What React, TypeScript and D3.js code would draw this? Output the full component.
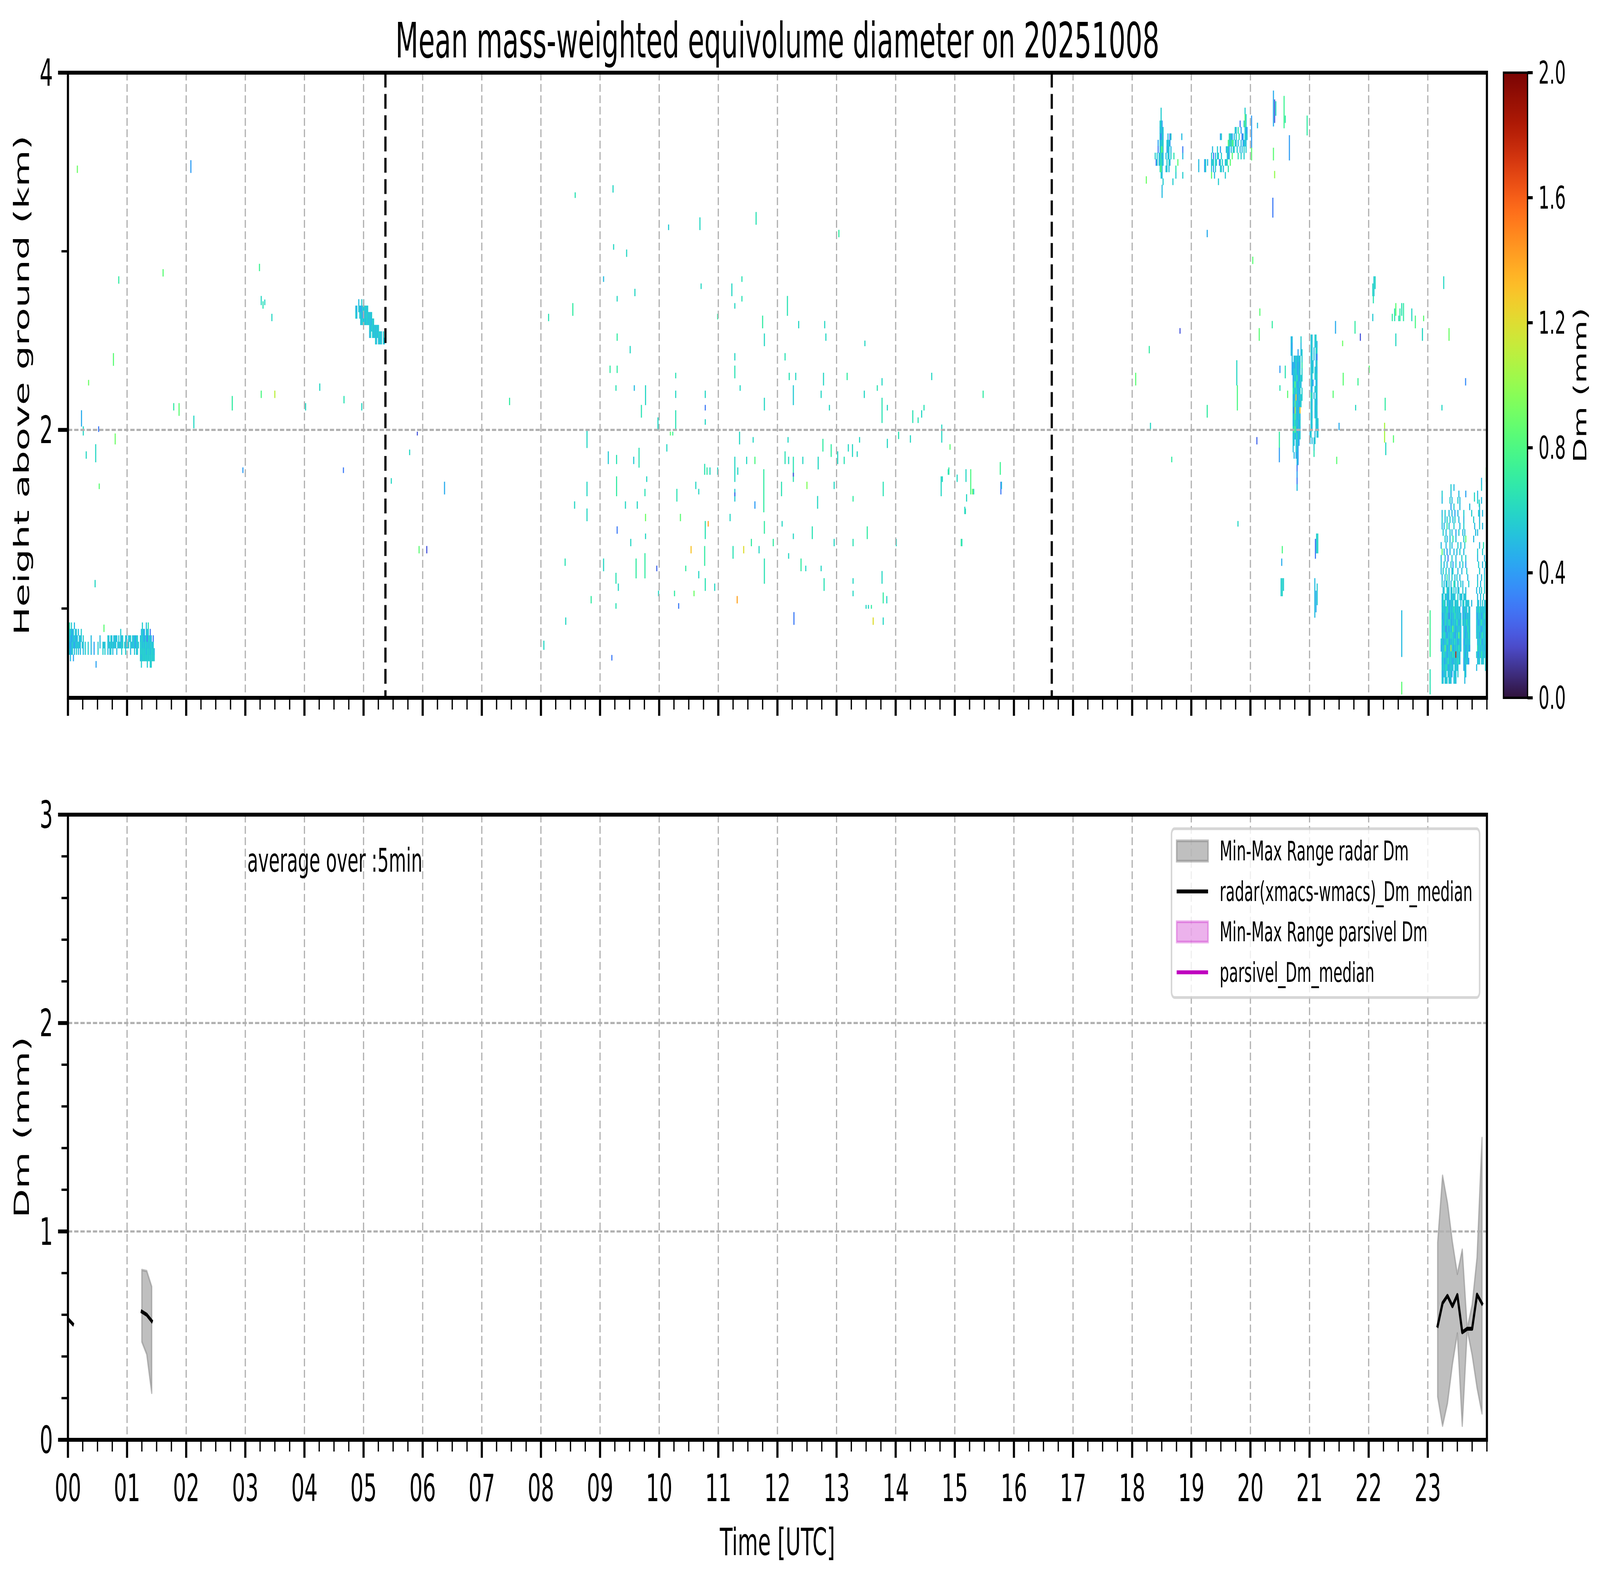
import React from 'react'
import * as d3 from 'd3'

// ---------------- data ----------------
const hourLabels = ['00', '01', '02', '03', '04', '05', '06', '07', '08', '09', '10', '11',
    '12', '13', '14', '15', '16', '17', '18', '19', '20', '21', '22', '23']
const heightTicks = [2, 4]
const heightMinorTicks = [1, 3]
const dmTicks = [0, 1, 2, 3]
const cbarTicks = [0, 0.4, 0.8, 1.2, 1.6, 2.0]
const sunLines = [5.37, 16.64] // black dashed markers (h UTC)

// radar grid resolution
const STEP = 1 / 60 // h
const GATE = 0.036 // km

// Dm code letters used in the echo blocks (mm)
const dmCodes: Record<string, number> = {
    a: 0.3, b: 0.42, c: 0.5, d: 0.56, e: 0.66, f: 0.85, g: 1.1, h: 1.3, i: 1.5, j: 1.8
}

// dense echo regions: start hour, lowest gate (km), rows from top to bottom
const echoBlocks = [
    { // low layer 00:00-01:28
        start: 0.0, base: 0.67, rows: [
            'fe.d..c...........' + '.........................' + '..............................' + '..d...c.e......',
            'fddcbd.cd.c..d....' + '.........................' + '..........d...................' + '.cdcb.dcd.a....',
            'edcbccdcbd.cdc.d..' + '.....c........c.......dc.' + 'dc.cdcc.d.ccd..dc.cdd.cdcbdd..' + 'cddcbdcaddcc.a.',
            'dcbcdcbcdcdcc.dc.d' + '..d..c..b...d.c..dcd..cdc' + 'dcdccd.cdccdd.dcdcd.dccdcbdcd.' + 'ddcdcddcdcddcd.',
            'cdbcd.c.d.c.c..c.d' + '..d..c..b...d....d.d..c.c' + 'd.c...c....d...d....c...d.cd..' + 'ddddddcdddcdddc',
            '..c..b............' + '.........................' + '..............................' + 'dcddddddddddddd',
            '..................' + '..........b..............' + '..............................' + '.d.....d..dd...',
        ]
    },
    { // 05h layer near 2.6 km
        start: 4.86, base: 2.48, rows: [
            '...c..d.c......................',
            'cc.dcbcdcddcd..................',
            'dc..ddcbdcdddcdcd..............',
            '.....cddcdcddcdccdd............',
            '..............dcddcdcdcd.......',
            '..............cd.dcdcdcdddc.d..',
            '....................dc.dcdc.dc.',
        ]
    },
    { // upper layer around 18:30
        start: 18.33, base: 3.30, rows: [
            '.........d......................',
            '.........d......................',
            '........ddb.....................',
            '........cdbd....................',
            '........cadc....c.ad..........c.',
            '......b.dcdd...dcdb.............',
            '......a.cefd...bdc.c...........a',
            '...d.d.cdebd..c.dc.d..e........c',
            '....ad.cdedc...d.dc.......f.....',
            '........efc...cd.c......e.......',
            '.........dc.............d......d',
            '...........d.........d..........',
            '..........c.....................',
            '..........c.....................',
        ]
    },
    { // upper layer 19-20h
        start: 19.1, base: 3.372, rows: [
            '................................................d.......',
            '................................................fd......',
            '...........................................a...dfd......',
            '......................................dc.e..b...dcb.....',
            '.......................bd.......ecdb.c.d..e..ab.ddc.....',
            '...............................fdecfe.dc.c..c.bcdc......',
            '...............c....d..b.....cddb.c.dd..d..c.c.d.d......',
            '..............d.a.c.dd..d.....dbc..f.....e..d..d........',
            '.c.....bd.c...cdd.dd..ad.d..dce..f......................',
            '.c.....bd.....d.b.d....dd.c....e........................',
            '..............f..c..........d...........................',
            '.....................d..................................',
        ]
    },
    { // fall streak ~20:45
        start: 20.68, base: 1.66, rows: [
            'cc........d.', 'cb........c.', 'cc.....b..cd', '.c.ccdcccd.d',
            '.bcbcdcbcc.e', '.bccddcbcd.d', '..bdcdecbcdd', '..cdfdcbcdc.',
            '..edceccbd.d', '..cbdhcbdcdd', '..dbfcdcbcd.', '..cagdcbdh..',
            '..dcfcdbdc..', '..cdecdcbd..', '..edfdcbdc..', '..cdccebcd..',
            '..dc.cdcb...', '..c..dcb....', '...c.bcb....', '......cb....',
            '......a.....', '......b.....', '......a.....', '......c.....',
        ]
    },
    { // fall streak ~21:05
        start: 21.0, base: 1.85, rows: [
            '.dc..dd..', '.cd..cdc.', '.dc.c.dd.', '.cd.c.ca.', '.cdc..cd.',
            '.dcd.dcc.', '.cd..cdd.', '.dcb..cc.', '.cc..dcd.', '.ed.c.cd.',
            '.dc..dcc.', '.cd..ccd.', '.dc..cdc.', '.cd...dcd', '.dc...cdc',
            'cd...c.cd', 'c.c.cd...', '....d....', '....e....',
        ]
    },
    { // low rain 23:12-24:00
        start: 23.2, base: 0.58, rows: [
            '..........................................c.....',
            '...........d..c...........................d.....',
            '..d........c.......c......b...........c.........',
            '..c.......d.c.....d.c.................d...c.....',
            '...........b..d.....c.........c.........c.......',
            '..c..d...c..c..b..c.....d.......d......dc..c....',
            '..d..c.d..d..c.d...c....c.........d.....c.......',
            '..c.c..e.c....d.....c...d..........c....d..c....',
            '...d..c...d.c...b..d...c.c..........c.c.........',
            '.....d.c..c..e..c.......d.f.......c.............',
            '.c....c...d.c.....d..c...d..............c...e...',
            '..f.c..b..c...c..c..d...c.............d....d....',
            '.c...d..a...d...c.....d...d...........c......c..',
            '.d..c..c...d.b..d...c..d..b............d...c..d.',
            '.c.d..d..c..cd....c...c....d............d....c..',
            '..c..c.e.c..d..c.d..c.......c.........c...c..d..',
            '..d.c.dc.d.c..ed..c..d.c.....d........d..c...d..',
            '...cd..ddc.cd.d.c.dc...d..c..........c..c.d..d..',
            '..dc.ddcbd.cdccd..d.cdc.dcd...........c..c..d..d',
            '..cdec.dccbdcd.dcdd..c.dd.cdcd..c.....dc.c.d.cde',
            '..dcdcdedbcdcdedcdcdc..bdcdc.dc......cdcecdcdcdd',
            '..cbdcecdacdbdcedcdcdc.bdcbdcdc......cbdcdbcdecd',
            '..dcbecdcedcbdcdcedbcd.dcdcedcd......dcbcdecdbdc',
            '..cdcdadcbdcdfcdbcdcdc..cdbcedc......cdcdcbcdcde',
            '..dcedcbcdceddcbcdcfdc..dcbdcec......dcdbcdecdcd',
            '.cdbcdcedcbdcdcecdbcdc..bcdcdcd.......cdcecbdcdc',
            '.bcdcfdcbdcgdcbdcdcedc..cdbcdcb.......ecdcdcdbdc',
            '..dcecdbcdcdcedcjdcdc...dcbdc........dcbdcedcdc.',
            '..cdcbdcedcdcbdcdcedc...bdcdcb........cdc.dcd.d.',
            '..dcdcedcbdcdc.dcdc.....cbd..........c........d.',
            '..cbdcd.cdcdb.cdc.d......dc.....................',
            '..dc.dcd.cdc..cdc........c......................',
        ]
    },
]

// isolated echoes: [hour, km bottom, km top, Dm (mm)]
const echoMarks: [number, number, number, number][] = [
    [0.15, 3.44, 3.48, 0.9], [2.07, 3.44, 3.51, 0.4], [0.85, 2.82, 2.86, 0.7], [1.60, 2.86, 2.90, 0.85],
    [3.23, 2.89, 2.93, 0.75], [3.26, 2.70, 2.75, 0.6], [3.29, 2.68, 2.72, 0.65], [3.32, 2.70, 2.73, 0.6],
    [3.44, 2.61, 2.65, 0.6], [0.76, 2.36, 2.43, 0.85], [0.34, 2.25, 2.28, 0.9], [0.22, 2.02, 2.11, 0.45],
    [0.25, 1.97, 2.02, 0.6], [0.51, 1.99, 2.02, 0.3], [0.79, 1.92, 1.98, 0.9], [0.30, 1.84, 1.88, 0.6],
    [0.46, 1.82, 1.92, 0.6], [0.52, 1.67, 1.70, 0.85], [0.45, 1.12, 1.16, 0.6], [0.60, 0.87, 0.91, 0.85],
    [1.78, 2.11, 2.15, 0.7], [1.87, 2.08, 2.15, 0.85], [2.12, 2.01, 2.08, 0.6], [2.77, 2.11, 2.19, 0.7],
    [2.95, 1.76, 1.79, 0.4], [3.26, 2.18, 2.22, 0.8], [3.49, 2.18, 2.22, 1.1], [4.25, 2.22, 2.26, 0.6],
    [4.66, 2.15, 2.19, 0.65], [4.65, 1.76, 1.79, 0.3], [4.01, 2.11, 2.15, 0.6], [4.96, 2.11, 2.15, 0.6],
    [5.46, 1.70, 1.73, 0.6], [5.77, 1.86, 1.89, 0.6], [5.90, 1.97, 1.99, 0.2], [5.93, 1.31, 1.35, 0.85],
    [6.06, 1.31, 1.35, 0.2], [6.36, 1.64, 1.71, 0.45], [7.46, 2.14, 2.18, 0.7], [8.04, 0.77, 0.82, 0.6],
    // 08-16h scattered echoes
    [8.57, 3.30, 3.33, 0.65], [9.21, 3.33, 3.37, 0.6], [8.12, 2.61, 2.65, 0.65], [8.53, 2.64, 2.71, 0.7],
    [9.22, 3.01, 3.04, 0.6], [9.44, 2.97, 3.01, 0.6], [9.05, 2.83, 2.86, 0.5], [9.28, 2.72, 2.75, 0.6],
    [9.58, 2.75, 2.79, 0.6], [9.28, 2.50, 2.54, 0.7], [9.50, 2.43, 2.47, 0.6], [9.16, 2.32, 2.36, 0.7],
    [9.28, 2.32, 2.36, 0.7], [9.26, 2.22, 2.25, 0.65], [9.57, 2.22, 2.25, 0.5], [9.76, 2.14, 2.25, 0.6],
    [9.69, 2.07, 2.14, 0.65], [9.97, 2.00, 2.07, 0.6], [10.15, 3.12, 3.15, 0.55], [10.68, 3.12, 3.19, 0.6],
    [10.70, 2.79, 2.82, 0.6], [10.27, 2.29, 2.32, 0.65], [10.27, 2.18, 2.22, 0.6], [10.27, 2.00, 2.11, 0.65],
    [10.77, 2.18, 2.22, 0.6], [10.77, 2.11, 2.14, 0.3], [10.77, 2.03, 2.06, 0.6], [10.98, 2.62, 2.65, 0.7],
    [11.22, 2.75, 2.82, 0.6], [11.39, 2.83, 2.86, 0.65], [11.39, 2.72, 2.75, 0.65], [11.27, 2.68, 2.71, 0.6],
    [11.63, 3.15, 3.22, 0.65], [11.74, 2.57, 2.64, 0.7], [11.77, 2.47, 2.54, 0.6], [11.27, 2.39, 2.43, 0.6],
    [11.27, 2.29, 2.36, 0.65], [11.36, 2.22, 2.25, 0.6], [11.77, 2.11, 2.18, 0.6], [12.16, 2.64, 2.75, 0.65],
    [12.35, 2.57, 2.61, 0.6], [12.79, 2.57, 2.61, 0.6], [12.81, 2.50, 2.54, 0.6], [12.12, 2.39, 2.43, 0.65],
    [12.19, 2.28, 2.32, 0.65], [12.30, 2.28, 2.32, 0.6], [12.26, 2.14, 2.25, 0.55], [12.77, 2.25, 2.32, 0.6],
    [12.73, 2.18, 2.22, 0.6], [12.87, 2.11, 2.14, 0.6], [13.03, 3.08, 3.12, 0.7], [13.47, 2.47, 2.50, 0.6],
    [13.17, 2.28, 2.32, 0.7], [13.46, 2.18, 2.22, 0.6], [13.68, 2.22, 2.25, 0.65], [13.76, 2.25, 2.29, 0.6],
    [13.76, 2.04, 2.18, 0.65], [13.85, 2.11, 2.14, 0.6], [14.28, 2.04, 2.11, 0.65], [14.37, 2.04, 2.07, 0.65],
    [14.43, 2.07, 2.11, 0.6], [14.47, 2.11, 2.14, 0.65], [14.60, 2.28, 2.32, 0.6], [14.77, 1.93, 2.03, 0.6],
    [15.47, 2.18, 2.22, 0.7], [8.77, 1.90, 2.00, 0.6], [8.77, 1.63, 1.71, 0.6], [8.77, 1.49, 1.56, 0.6],
    [8.56, 1.56, 1.60, 0.6], [9.13, 1.81, 1.88, 0.55], [9.27, 1.81, 1.86, 0.65], [9.27, 1.63, 1.74, 0.7],
    [9.42, 1.56, 1.60, 0.6], [9.56, 1.81, 1.85, 0.55], [9.65, 1.79, 1.90, 0.65], [9.75, 1.63, 1.67, 0.65],
    [9.78, 1.71, 1.74, 0.6], [9.62, 1.56, 1.60, 0.6], [9.76, 1.49, 1.53, 0.9], [9.28, 1.42, 1.46, 0.3],
    [9.51, 1.35, 1.39, 0.6], [9.76, 1.39, 1.42, 0.6], [9.60, 1.17, 1.28, 0.7], [9.75, 1.17, 1.31, 0.7],
    [9.26, 1.14, 1.20, 0.65], [9.30, 1.10, 1.14, 0.6], [9.05, 1.21, 1.28, 0.6], [8.40, 1.24, 1.28, 0.65],
    [8.84, 1.03, 1.07, 0.7], [8.41, 0.91, 0.95, 0.6], [9.19, 0.71, 0.74, 0.3], [9.26, 1.00, 1.03, 0.65],
    [9.95, 1.21, 1.24, 0.25], [9.98, 1.07, 1.10, 0.6], [10.12, 1.88, 1.92, 0.6], [10.18, 1.97, 1.99, 0.85],
    [10.22, 1.97, 1.99, 0.75], [10.29, 1.60, 1.67, 0.65], [10.35, 1.49, 1.53, 0.85], [10.32, 1.00, 1.03, 0.3],
    [10.25, 1.07, 1.10, 0.7], [10.44, 1.21, 1.24, 0.7], [10.53, 1.31, 1.35, 1.3], [10.58, 1.07, 1.10, 0.9],
    [10.66, 1.64, 1.67, 0.6], [10.61, 1.67, 1.71, 0.6], [10.66, 1.17, 1.21, 0.6], [10.76, 1.75, 1.81, 0.65],
    [10.80, 1.75, 1.79, 0.7], [10.85, 1.75, 1.79, 0.6], [10.77, 1.39, 1.49, 0.65], [10.76, 1.24, 1.35, 0.7],
    [10.77, 1.10, 1.17, 0.65], [10.82, 1.46, 1.49, 1.4], [10.93, 1.10, 1.14, 0.6], [10.98, 1.75, 1.79, 0.6],
    [11.19, 1.49, 1.53, 0.6], [11.24, 1.28, 1.35, 0.65], [11.27, 1.71, 1.85, 0.6], [11.27, 1.60, 1.67, 0.55],
    [11.27, 1.63, 1.65, 0.25], [11.31, 1.03, 1.07, 1.4], [11.32, 1.75, 1.79, 0.6], [11.35, 1.92, 1.99, 0.6],
    [11.42, 1.31, 1.35, 1.2], [11.47, 1.81, 1.85, 0.6], [11.55, 1.35, 1.39, 0.7], [11.58, 1.93, 1.96, 0.6],
    [11.61, 1.81, 1.85, 0.8], [11.61, 1.56, 1.60, 0.4], [11.68, 1.31, 1.35, 0.6], [11.76, 1.54, 1.78, 0.7],
    [11.77, 1.42, 1.49, 0.7], [11.77, 1.14, 1.28, 0.65], [11.92, 1.35, 1.39, 0.7], [12.06, 1.63, 1.71, 0.65],
    [12.07, 1.46, 1.49, 0.6], [12.12, 1.81, 1.88, 0.65], [12.17, 1.93, 1.96, 0.6], [12.18, 1.81, 1.85, 0.6],
    [12.26, 1.71, 1.85, 0.65], [12.26, 1.74, 1.76, 0.2], [12.26, 1.39, 1.42, 0.6], [12.27, 0.91, 0.98, 0.3],
    [12.18, 1.28, 1.31, 0.6], [12.39, 1.21, 1.28, 0.7], [12.47, 1.21, 1.24, 0.6], [12.49, 1.67, 1.71, 0.95],
    [12.42, 1.81, 1.85, 0.6], [12.58, 1.39, 1.46, 0.65], [12.68, 1.78, 1.85, 0.6], [12.67, 1.56, 1.63, 0.6],
    [12.73, 1.21, 1.24, 0.6], [12.78, 1.10, 1.17, 0.65], [12.76, 1.88, 1.95, 0.7], [12.90, 1.85, 1.92, 0.7],
    [12.95, 1.67, 1.71, 0.6], [12.95, 1.35, 1.39, 0.6], [13.01, 1.81, 1.88, 0.6], [13.12, 1.81, 1.85, 0.65],
    [13.19, 1.88, 1.92, 0.6], [13.26, 1.85, 1.92, 0.6], [13.34, 1.85, 1.88, 0.6], [13.27, 1.60, 1.63, 0.7],
    [13.27, 1.35, 1.39, 0.65], [13.27, 1.14, 1.17, 0.6], [13.27, 1.07, 1.10, 0.6], [13.38, 1.93, 1.96, 0.6],
    [13.51, 1.39, 1.46, 0.7], [13.49, 1.00, 1.02, 0.6], [13.53, 1.00, 1.02, 0.6], [13.58, 1.00, 1.02, 0.7],
    [13.61, 0.91, 0.95, 1.2], [13.76, 1.14, 1.21, 0.6], [13.78, 1.03, 1.09, 0.7], [13.78, 1.63, 1.71, 0.65],
    [13.78, 0.91, 0.95, 0.6], [13.84, 1.03, 1.07, 0.6], [13.85, 1.90, 1.95, 0.6], [14.00, 1.35, 1.39, 0.6],
    [14.04, 1.95, 1.99, 0.65], [14.24, 1.93, 1.97, 0.6], [14.76, 1.63, 1.74, 0.6], [14.78, 1.71, 1.74, 0.6],
    [14.89, 1.75, 1.79, 0.7], [15.03, 1.71, 1.75, 0.6], [15.11, 1.35, 1.39, 0.6], [15.17, 1.53, 1.56, 0.65],
    [15.26, 1.64, 1.78, 0.8], [15.29, 1.64, 1.67, 0.9], [15.76, 1.75, 1.82, 0.75], [15.77, 1.64, 1.71, 0.3],
    [14.91, 1.89, 1.92, 0.85], [14.88, 1.75, 1.78, 0.65], [15.18, 1.71, 1.78, 0.6], [15.19, 1.60, 1.64, 0.6],
    [15.16, 1.53, 1.57, 0.6], [15.10, 1.35, 1.39, 0.7], [15.31, 1.64, 1.67, 0.6], [15.78, 1.67, 1.71, 0.5],
    // 18-24h scattered echoes
    [18.23, 3.38, 3.42, 0.9], [18.80, 2.54, 2.57, 0.2], [18.28, 2.43, 2.47, 0.7], [18.05, 2.25, 2.32, 0.85],
    [18.30, 2.00, 2.04, 0.6], [18.66, 1.82, 1.85, 0.7], [19.26, 3.08, 3.12, 0.45], [19.76, 2.25, 2.39, 0.6],
    [19.77, 2.11, 2.25, 0.8], [19.26, 2.07, 2.14, 0.7], [19.78, 1.46, 1.49, 0.6], [20.01, 3.58, 3.76, 0.4],
    [20.01, 3.51, 3.58, 0.85], [20.03, 2.93, 2.97, 0.85], [20.15, 2.64, 2.68, 0.85], [20.14, 2.50, 2.57, 0.85],
    [20.36, 2.57, 2.61, 0.7], [20.10, 1.92, 1.96, 0.25], [20.38, 3.70, 3.90, 0.45], [20.40, 3.72, 3.85, 0.2],
    [20.42, 3.76, 3.84, 0.6], [20.38, 3.51, 3.58, 0.85], [20.40, 3.41, 3.45, 1.0], [20.37, 3.19, 3.30, 0.3],
    [20.56, 3.69, 3.87, 0.75], [20.58, 3.72, 3.76, 0.7], [20.65, 3.51, 3.65, 0.4], [20.95, 3.65, 3.76, 0.7],
    [20.11, 3.69, 3.72, 0.5], [20.49, 2.32, 2.36, 0.4], [20.58, 2.29, 2.36, 0.65], [20.49, 2.22, 2.25, 0.65],
    [20.62, 2.18, 2.22, 0.85], [20.48, 1.90, 1.99, 0.7], [20.48, 1.82, 1.90, 0.4], [20.53, 1.31, 1.35, 0.8],
    [20.52, 1.24, 1.28, 0.45], [20.51, 1.07, 1.17, 0.55], [20.53, 1.07, 1.17, 0.6], [20.55, 1.10, 1.17, 0.55],
    [21.09, 1.28, 1.39, 0.3], [21.11, 1.31, 1.42, 0.55], [21.13, 1.31, 1.42, 0.6], [21.08, 0.95, 1.17, 0.5],
    [21.10, 0.98, 1.10, 0.45], [21.12, 1.02, 1.14, 0.55], [21.43, 2.54, 2.61, 0.45], [21.76, 2.54, 2.61, 0.7],
    [21.85, 2.50, 2.54, 0.2], [21.55, 2.47, 2.50, 0.9], [21.56, 2.25, 2.32, 0.85], [21.81, 2.25, 2.29, 0.75],
    [21.77, 2.11, 2.14, 0.6], [21.39, 2.18, 2.22, 0.85], [21.49, 2.00, 2.04, 0.45], [21.45, 1.81, 1.85, 0.85],
    [22.00, 2.32, 2.36, 0.85], [22.06, 2.75, 2.82, 0.6], [22.08, 2.75, 2.86, 0.55], [22.10, 2.79, 2.86, 0.6],
    [22.07, 2.71, 2.75, 0.65], [22.06, 2.61, 2.65, 0.55], [22.39, 2.61, 2.65, 0.7], [22.43, 2.61, 2.68, 0.65],
    [22.45, 2.64, 2.71, 0.85], [22.45, 2.47, 2.54, 0.6], [22.50, 2.61, 2.64, 0.65], [22.52, 2.61, 2.68, 0.7],
    [22.55, 2.64, 2.71, 0.65], [22.58, 2.61, 2.71, 0.7], [22.72, 2.61, 2.68, 0.6], [22.78, 2.57, 2.64, 0.8],
    [22.90, 2.50, 2.57, 0.6], [22.92, 2.61, 2.64, 0.85], [23.35, 2.50, 2.57, 0.9], [23.26, 2.79, 2.86, 0.6],
    [23.63, 2.25, 2.29, 0.35], [23.23, 2.11, 2.14, 0.6], [22.27, 2.11, 2.18, 0.7], [22.26, 1.93, 2.04, 1.05],
    [22.28, 1.86, 1.93, 0.6], [22.41, 1.93, 1.97, 0.85], [22.55, 0.73, 0.99, 0.5], [22.55, 0.52, 0.59, 0.85],
    [23.03, 0.73, 0.99, 0.75], [23.03, 0.52, 0.66, 0.65], [23.98, 1.71, 1.79, 0.9], [23.78, 1.60, 1.65, 0.6],
    [23.86, 1.57, 1.61, 0.6],
]

// 5-min radar Dm statistics (mm)
const dmTimes = [0.0, 0.083, 1.25, 1.333, 1.417, 23.167, 23.25, 23.333, 23.417, 23.5, 23.583, 23.667, 23.75, 23.833, 23.917]
const dmMedian = [0.58, 0.555, 0.615, 0.60, 0.57, 0.547, 0.656, 0.691, 0.641, 0.695, 0.516, 0.533, 0.533, 0.697, 0.654]
const dmMin = [0.58, 0.555, 0.47, 0.41, 0.225, 0.207, 0.067, 0.175, 0.363, 0.511, 0.067, 0.528, 0.407, 0.250, 0.126]
const dmMax = [0.58, 0.555, 0.815, 0.81, 0.735, 0.947, 1.268, 1.137, 0.948, 0.796, 0.913, 0.535, 0.648, 0.875, 1.449]

const legendLabels = ['Min-Max Range radar Dm', 'radar(xmacs-wmacs)_Dm_median', 'Min-Max Range parsivel Dm', 'parsivel_Dm_median']

// ---------------- helpers ----------------
const turbo = (t: number) => {
    t = Math.max(0, Math.min(1, t))
    if (t < 0.08) return d3.interpolateRgb('#30123b', d3.interpolateTurbo(0.08))(t / 0.08)
    if (t > 0.92) return d3.interpolateRgb(d3.interpolateTurbo(0.92), '#7a0403')((t - 0.92) / 0.08)
    return d3.interpolateTurbo(t)
}

const FONT = 'DejaVu Sans'
const GRID = { stroke: '#b0b0b0', strokeWidth: 5.5, strokeDasharray: '20 9' }

export default function App() {
    const W = 7442, H = 4031
    const L = 316, R = 6916
    const T1 = 186, B1 = 1786, T2 = 2085, B2 = 3685
    const CB = { x0: 6993, x1: 7105 }

    const x = d3.scaleLinear().domain([0, 24]).range([L, R])
    const yH = d3.scaleLinear().domain([0.5, 4]).range([B1, T1])
    const yD = d3.scaleLinear().domain([0, 3]).range([B2, T2])
    const cb = d3.scaleLinear().domain([0, 2]).range([B1, T1])
    const color = d3.scaleSequential(turbo).domain([0, 2])

    // expand blocks to cells
    const cells: [number, number, number, number][] = []
    echoBlocks.forEach(b => {
        const n = b.rows.length
        b.rows.forEach((row, r) => {
            const lo = b.base + (n - 1 - r) * GATE
            for (let c = 0; c < row.length; c++) {
                const v = dmCodes[row[c]]
                if (v === undefined) continue
                cells.push([b.start + c * STEP, lo, lo + GATE, v])
            }
        })
    })
    echoMarks.forEach(m => cells.push(m))

    const hourMajor = d3.range(0, 24)
    const hourMinor = d3.range(0, 24.001, 0.25).filter(v => Math.abs(v - Math.round(v)) > 1e-6).concat([24])
    const dmMinor = d3.range(0, 3.001, 0.2).filter(v => Math.abs(v - Math.round(v)) > 1e-6)

    // bottom panel segments (break on gaps)
    const pts = dmTimes.map((t, i) => ({ t, med: dmMedian[i], lo: dmMin[i], hi: dmMax[i] }))
    const segs: typeof pts[] = []
    pts.forEach((p, i) => {
        if (i === 0 || p.t - pts[i - 1].t > 0.1) segs.push([])
        segs[segs.length - 1].push(p)
    })
    const area = d3.area<typeof pts[0]>().x(d => x(d.t)).y0(d => yD(d.lo)).y1(d => yD(d.hi))
    const line = d3.line<typeof pts[0]>().x(d => x(d.t)).y(d => yD(d.med))

    const gradStops = d3.range(0, 1.0001, 0.02)

    const xTicks = (y0: number) => (
        <g>
            {hourMajor.map(h => <line key={'M' + h} x1={x(h)} x2={x(h)} y1={y0} y2={y0 + 46} stroke="#000" strokeWidth={10} />)}
            {hourMinor.map(h => <line key={'m' + h} x1={x(h)} x2={x(h)} y1={y0} y2={y0 + 30} stroke="#000" strokeWidth={6} />)}
        </g>
    )

    const legendY0 = 2178

    // the svg fills the browser window whatever its real size, drawing in reference pixel units
    return (
        <svg viewBox={`0 0 ${W} ${H}`} preserveAspectRatio="none"
            style={{ position: 'fixed', left: 0, top: 0, width: '100vw', height: '100vh', background: '#fff', display: 'block' }}
            fontFamily={FONT}>
            <defs>
                <clipPath id="clipTop"><rect x={L} y={T1} width={R - L} height={B1 - T1} /></clipPath>
                <clipPath id="clipBot"><rect x={L} y={T2} width={R - L} height={B2 - T2} /></clipPath>
                <linearGradient id="cbar" x1="0" y1="1" x2="0" y2="0">
                    {gradStops.map(s => <stop key={s} offset={s} stopColor={turbo(s)} />)}
                </linearGradient>
            </defs>
            <rect width={W} height={H} fill="#fff" />

            {/* title */}
            <text x={(L + R) / 2} y={147} fontSize={124} textAnchor="middle">Mean mass-weighted equivolume diameter on 20251008</text>

            {/* ---------- top panel ---------- */}
            <g clipPath="url(#clipTop)">
                {cells.map((c, i) => (
                    <rect key={i} x={x(c[0])} y={yH(c[2])} width={x(c[0] + STEP) - x(c[0]) + 0.6}
                        height={yH(c[1]) - yH(c[2]) + 0.6} fill={color(c[3])} />
                ))}
            </g>
            <g>
                {hourMajor.map(h => <line key={h} x1={x(h)} x2={x(h)} y1={T1} y2={B1} {...GRID} />)}
                {heightTicks.map(v => <line key={v} x1={L} x2={R} y1={yH(v)} y2={yH(v)} {...GRID} />)}
            </g>
            {sunLines.map(h => (
                <line key={h} x1={x(h)} x2={x(h)} y1={T1} y2={B1} stroke="#000" strokeWidth={10.3} strokeDasharray="38 16.5" />
            ))}
            <rect x={L} y={T1} width={R - L} height={B1 - T1} fill="none" stroke="#000" strokeWidth={10} />
            {xTicks(B1)}
            {heightTicks.map(v => (
                <g key={v}>
                    <line x1={L - 46} x2={L} y1={yH(v)} y2={yH(v)} stroke="#000" strokeWidth={10} />
                    <text x={L - 70} y={yH(v)} dy="0.35em" fontSize={97} textAnchor="end">{v}</text>
                </g>
            ))}
            {heightMinorTicks.map(v => <line key={v} x1={L - 30} x2={L} y1={yH(v)} y2={yH(v)} stroke="#000" strokeWidth={6} />)}
            <text transform={`translate(134,${(T1 + B1) / 2}) rotate(-90)`} fontSize={97} textAnchor="middle">Height above ground (km)</text>

            {/* colorbar */}
            <rect x={CB.x0} y={T1} width={CB.x1 - CB.x0} height={B1 - T1} fill="url(#cbar)" stroke="#000" strokeWidth={6} />
            {cbarTicks.map(v => (
                <g key={v}>
                    <line x1={CB.x1} x2={CB.x1 + 24} y1={cb(v)} y2={cb(v)} stroke="#000" strokeWidth={8} />
                    <text x={7156} y={cb(v)} dy="0.35em" fontSize={80}>{v.toFixed(1)}</text>
                </g>
            ))}
            <text transform={`translate(7378,${(T1 + B1) / 2}) rotate(-90)`} fontSize={83} textAnchor="middle">Dm (mm)</text>

            {/* ---------- bottom panel ---------- */}
            <g clipPath="url(#clipBot)">
                {segs.map((s, i) => (
                    <path key={i} d={area(s) || ''} fill="gray" fillOpacity={0.5} stroke="gray" strokeOpacity={0.5} strokeWidth={6} strokeLinejoin="round" />
                ))}
            </g>
            <g>
                {hourMajor.map(h => <line key={h} x1={x(h)} x2={x(h)} y1={T2} y2={B2} {...GRID} />)}
                {dmTicks.map(v => <line key={v} x1={L} x2={R} y1={yD(v)} y2={yD(v)} {...GRID} />)}
            </g>
            <g clipPath="url(#clipBot)">
                {segs.map((s, i) => (
                    <path key={i} d={line(s) || ''} fill="none" stroke="#000" strokeWidth={10} strokeLinejoin="round" strokeLinecap="square" />
                ))}
            </g>
            <text x={1150} y={2231} fontSize={83}>average over :5min</text>

            {/* legend */}
            <g>
                <rect x={5449} y={2121} width={1433} height={432} rx={14} fill="#fff" fillOpacity={0.8} stroke="#cccccc" strokeOpacity={0.8} strokeWidth={7} />
                {legendLabels.map((lab, i) => {
                    const cy = legendY0 + i * 103.5
                    let handle
                    if (i === 0) handle = <rect x={5473} y={cy - 26} width={146} height={52} fill="gray" fillOpacity={0.5} stroke="gray" strokeOpacity={0.5} strokeWidth={7} />
                    else if (i === 2) handle = <rect x={5473} y={cy - 26} width={146} height={52} fill="#bf00bf" fillOpacity={0.3} stroke="#bf00bf" strokeOpacity={0.3} strokeWidth={7} />
                    else handle = <line x1={5473} x2={5619} y1={cy} y2={cy} stroke={i === 1 ? '#000' : '#bf00bf'} strokeWidth={10} />
                    return (
                        <g key={lab}>
                            {handle}
                            <text x={5673} y={cy} dy="0.35em" fontSize={69}>{lab}</text>
                        </g>
                    )
                })}
            </g>

            <rect x={L} y={T2} width={R - L} height={B2 - T2} fill="none" stroke="#000" strokeWidth={10} />
            {xTicks(B2)}
            {hourMajor.map((h, i) => (
                <text key={h} x={x(h)} y={3842} fontSize={97} textAnchor="middle">{hourLabels[i]}</text>
            ))}
            {dmTicks.map(v => (
                <g key={v}>
                    <line x1={L - 46} x2={L} y1={yD(v)} y2={yD(v)} stroke="#000" strokeWidth={10} />
                    <text x={L - 70} y={yD(v)} dy="0.35em" fontSize={97} textAnchor="end">{v}</text>
                </g>
            ))}
            {dmMinor.map(v => <line key={v} x1={L - 30} x2={L} y1={yD(v)} y2={yD(v)} stroke="#000" strokeWidth={6} />)}
            <text transform={`translate(134,${(T2 + B2) / 2}) rotate(-90)`} fontSize={97} textAnchor="middle">Dm (mm)</text>
            <text x={(L + R) / 2} y={3980} fontSize={97} textAnchor="middle">Time [UTC]</text>
        </svg>
    )
}
